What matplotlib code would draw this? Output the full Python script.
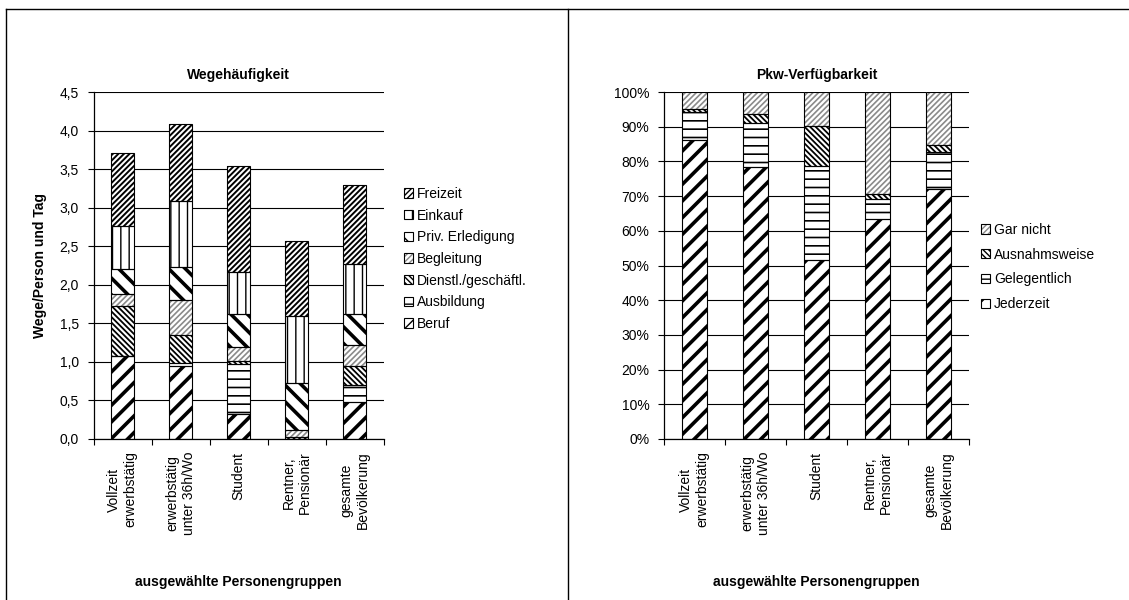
import numpy as np
import matplotlib
matplotlib.use("Agg")
import matplotlib.pyplot as plt
from matplotlib.lines import Line2D
from matplotlib.patches import Patch
from matplotlib.legend_handler import HandlerTuple

plt.rcParams['font.family'] = ['Liberation Sans', 'DejaVu Sans']
plt.rcParams['font.size'] = 10

# Personengruppen (x-axis categories, identical in both panels)
groups = ['Vollzeit\nerwerbstätig', 'erwerbstätig\nunter 36h/Wo', 'Student',
          'Rentner,\nPensionär', 'gesamte\nBevölkerung']

# Wegehäufigkeit: Wege pro Person und Tag nach Zweck
beruf = [1.07, 0.945, 0.32, 0.0, 0.475]
ausbildung = [0.01, 0.035, 0.65, 0.0, 0.22]
dienstl = [0.65, 0.375, 0.04, 0.02, 0.25]
begleitung = [0.15, 0.445, 0.18, 0.10, 0.27]
priv_erledigung = [0.33, 0.43, 0.425, 0.60, 0.40]
einkauf = [0.55, 0.86, 0.55, 0.88, 0.65]
freizeit = [0.95, 1.00, 1.375, 0.97, 1.03]
zweck_labels = ['Beruf', 'Ausbildung', 'Dienstl./geschäftl.', 'Begleitung',
                'Priv. Erledigung', 'Einkauf', 'Freizeit']

# Pkw-Verfügbarkeit in Prozent
jederzeit = [86.1, 78.3, 51.5, 63.3, 72.1]
gelegentlich = [8.0, 12.7, 27.2, 6.0, 10.7]
ausnahmsweise = [1.1, 2.6, 11.4, 1.3, 1.8]
gar_nicht = [4.8, 6.4, 9.9, 29.4, 15.4]
pkw_labels = ['Jederzeit', 'Gelegentlich', 'Ausnahmsweise', 'Gar nicht']

# hatch pattern, hatch colour, hatch line width (pt)
STYLE = {
    'thick_fwd': ('//', 'black', 2.6),
    'horiz': ('--', 'black', 1.2),
    'dense_back': ('\\' * 6, 'black', 1.3),
    'gray_fwd': ('/' * 6, '#8a8a8a', 1.2),
    'thick_back': ('\\\\', 'black', 2.6),
    'vert': ('||', 'black', 1.0),
    'dense_fwd': ('/' * 6, 'black', 1.4),
}
zweck_styles = ['thick_fwd', 'horiz', 'dense_back', 'gray_fwd',
                'thick_back', 'vert', 'dense_fwd']
pkw_styles = ['thick_fwd', 'horiz', 'dense_back', 'gray_fwd']

W = 0.41


def hatched(ax_or_none, style, **kw):
    hatch, hcol, hlw = STYLE[style]
    with plt.rc_context({'hatch.linewidth': hlw}):
        if ax_or_none is None:
            parts = [Patch(facecolor='white', edgecolor=hcol, hatch=hatch,
                           linewidth=0)]
        else:
            parts = list(ax_or_none.bar(facecolor='white', edgecolor=hcol,
                                        hatch=hatch, linewidth=0, **kw))
    for p in parts:
        if hasattr(p, 'set_hatch_linewidth'):
            p.set_hatch_linewidth(hlw)
    return parts


def stacked(ax, series, styles, labels):
    x = np.arange(len(groups))
    bottom = np.zeros(len(groups))
    handles = []
    for vals, st, lab in zip(series, styles, labels):
        vals = np.asarray(vals, dtype=float)
        hatched(ax, st, x=x, height=vals, width=W, bottom=bottom, zorder=2)
        ax.bar(x, vals, W, bottom=bottom, fill=False, edgecolor='black',
               linewidth=0.8, zorder=3)
        bottom += vals
        hp = hatched(None, st)[0]
        outline = Patch(facecolor='none', edgecolor='black', linewidth=0.8)
        handles.append(((hp, outline), lab))
    return handles


def style_axes(ax, ymax, yticks, yticklabels):
    ax.set_xlim(-0.5, len(groups) - 0.5)
    ax.set_ylim(0, ymax)
    ax.set_yticks(yticks)
    ax.set_yticklabels(yticklabels)
    ax.yaxis.grid(True, color='black', linewidth=0.8)
    ax.set_axisbelow(True)
    for s in ('top', 'right'):
        ax.spines[s].set_visible(False)
    for s in ('left', 'bottom'):
        ax.spines[s].set_linewidth(0.9)
    ax.tick_params(axis='y', direction='out', length=4.5, width=0.8, pad=6,
                   labelsize=10)
    ax.set_xticks(np.arange(-0.5, len(groups), 1.0))
    ax.set_xticklabels([])
    ax.tick_params(axis='x', which='major', direction='out', length=4.5,
                   width=0.8)
    ax.set_xticks(np.arange(len(groups)), minor=True)
    ax.set_xticklabels(groups, minor=True, rotation=90, va='top', ha='center',
                       multialignment='center', fontsize=10)
    ax.tick_params(axis='x', which='minor', length=0, pad=9)
    ax.set_xlabel('ausgewählte Personengruppen', fontweight='bold', fontsize=10)
    ax.xaxis.set_label_coords(0.5, -0.392)
    ax.xaxis.label.set_va('top')


fig = plt.figure(figsize=(11.29, 6.0), dpi=100)
FW, FH = 1129.0, 600.0

ax1 = fig.add_axes([93.5 / FW, 1 - 439 / FH, 290 / FW, 347 / FH])
ax2 = fig.add_axes([664 / FW, 1 - 439 / FH, 305 / FW, 347 / FH])

h1 = stacked(ax1, [beruf, ausbildung, dienstl, begleitung, priv_erledigung,
                   einkauf, freizeit], zweck_styles, zweck_labels)
yt1 = np.arange(0, 4.51, 0.5)
style_axes(ax1, 4.5, yt1, [f"{v:.1f}".replace('.', ',') for v in yt1])
ax1.set_title('Wegehäufigkeit', fontweight='bold', fontsize=10, pad=9)
ax1.set_ylabel('Wege/Person und Tag', fontweight='bold', fontsize=10)
ax1.yaxis.set_label_coords(-0.16, 0.5)

h2 = stacked(ax2, [jederzeit, gelegentlich, ausnahmsweise, gar_nicht],
             pkw_styles, pkw_labels)
yt2 = np.arange(0, 101, 10)
style_axes(ax2, 100, yt2, [f"{v}%" for v in yt2])
ax2.set_title('Pkw-Verfügbarkeit', fontweight='bold', fontsize=10, pad=9)

for ax, hs, anchor, spacing in ((ax1, h1, (404 / FW, 1 - 187 / FH), 0.55),
                                (ax2, h2, (981 / FW, 1 - 223 / FH), 0.77)):
    hs = hs[::-1]
    ax.legend([h for h, _ in hs], [l for _, l in hs],
              handler_map={tuple: HandlerTuple(ndivide=1, pad=0)},
              loc='upper left', bbox_to_anchor=anchor,
              bbox_transform=fig.transFigure, frameon=False,
              fontsize=10, handlelength=0.65, handleheight=0.65,
              handletextpad=0.3, labelspacing=spacing, borderpad=0,
              borderaxespad=0)

# panel frame and divider
for xs, ys in (([6, 1129], [9, 9]), ([6, 6], [9, 600]), ([568, 568], [9, 600])):
    fig.add_artist(Line2D([x / FW for x in xs], [1 - y / FH for y in ys],
                          color='black', linewidth=1.0,
                          transform=fig.transFigure))

fig.savefig('out.png', dpi=100)
